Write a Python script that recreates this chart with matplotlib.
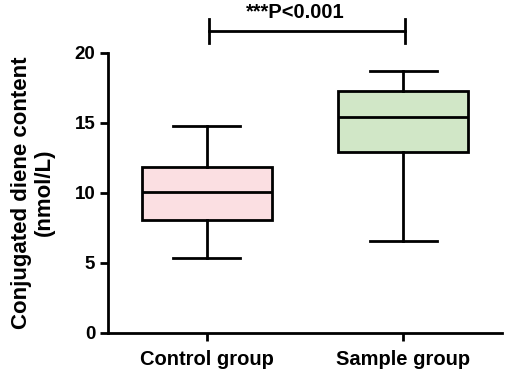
import numpy as np
import matplotlib.pyplot as plt

plt.rcParams['font.family'] = ['Liberation Sans', 'DejaVu Sans']
plt.rcParams['font.weight'] = 'bold'

groups = ['Control group', 'Sample group']
whislo = [5.36, 6.57]
q1 = [8.05, 12.93]
med = [10.07, 15.43]
q3 = [11.86, 17.29]
whishi = [14.74, 18.71]
fills = ['#fbdfe2', '#d1e7c7']
sig_text = '***P<0.001'

stats = []
for i in range(len(groups)):
    stats.append(dict(label=groups[i], whislo=whislo[i], q1=q1[i], med=med[i],
                      q3=q3[i], whishi=whishi[i], fliers=[]))

fig = plt.figure(figsize=(5.1, 3.72), dpi=100)
ax = fig.add_axes([0.2124, 0.1056, 0.7713, 0.7527])

lw = 2.0
bp = ax.bxp(stats, positions=[1, 2], widths=0.66, patch_artist=True,
            showfliers=False, capwidths=0.34,
            boxprops=dict(linewidth=lw, edgecolor='black'),
            medianprops=dict(linewidth=lw, color='black'),
            whiskerprops=dict(linewidth=lw, color='black'),
            capprops=dict(linewidth=lw, color='black'))
for patch, c in zip(bp['boxes'], fills):
    patch.set_facecolor(c)

ax.set_xlim(0.5, 2.5)
ax.set_ylim(0, 20)
ax.set_yticks([0, 5, 10, 15, 20])
ax.set_xticks([1, 2])
ax.set_xticklabels(groups)
for s in ['top', 'right']:
    ax.spines[s].set_visible(False)
for s in ['left', 'bottom']:
    ax.spines[s].set_linewidth(lw)
ax.tick_params(axis='both', width=lw, length=6)
ax.tick_params(axis='y', labelsize=13.5)
ax.tick_params(axis='x', labelsize=14.5, pad=6.5)
ax.set_ylabel('Conjugated diene content\n(nmol/L)', fontsize=16,
              fontweight='bold', labelpad=14, linespacing=1.1)

# significance bracket
ybar = 21.55
ax.plot([1.01, 2.01], [ybar, ybar], color='black', lw=lw, clip_on=False)
ax.plot([1.01, 1.01], [20.7, 22.4], color='black', lw=lw, clip_on=False)
ax.plot([2.01, 2.01], [20.7, 22.4], color='black', lw=lw, clip_on=False)
ax.text(1.45, 22.86, sig_text, ha='center', va='center', fontsize=14.5,
        fontweight='bold', clip_on=False)

plt.savefig('out.png', dpi=100)
